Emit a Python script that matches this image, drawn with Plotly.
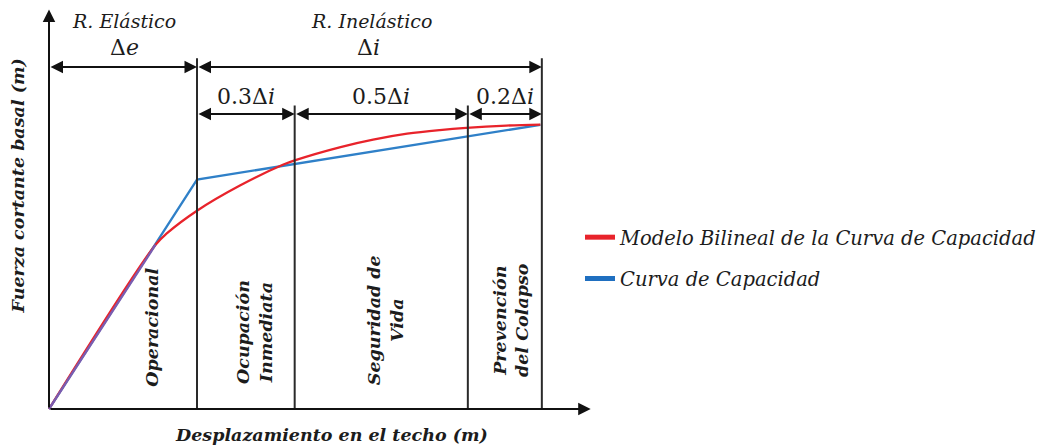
import plotly.graph_objects as go

# ---------------- data ----------------
region_bounds = [0.0, 1.0, 1.66, 2.83, 3.33]          # 0, Δe, +0.3Δi, +0.5Δi, +0.2Δi
region_labels = ["Operacional", "Ocupación<br>Inmediata", "Seguridad de<br>Vida", "Prevención<br>del Colapso"]
fraction_labels = ["0.3Δ<i>i</i>", "0.5Δ<i>i</i>", "0.2Δ<i>i</i>"]

bilinear_x = [0.0, 1.0, 3.32]
bilinear_y = [0.0, 1.55, 1.92]

curve_x = [0.0, 0.72, 0.80, 1.00, 1.29, 1.58, 1.66, 1.97, 2.19, 2.42, 2.64, 2.82, 3.09, 3.32]
curve_y = [0.0, 1.11, 1.19, 1.34, 1.51, 1.65, 1.68, 1.77, 1.82, 1.86, 1.885, 1.90, 1.915, 1.922]

name_curve = "Modelo Bilineal de la Curva de Capacidad"
name_bilinear = "Curva de Capacidad"

RED = "#e8232b"
BLUE = "#2f80c8"
PURPLE = "#7a5cb0"
INK = "#1c1c1c"
SERIF = "DejaVu Serif"

W, H = 1060, 446
UNIT = 148.0              # px per data unit
OX, OY = 49, 409          # origin in figure px

fig = go.Figure()

# capacity curves
fig.add_trace(go.Scatter(x=bilinear_x, y=bilinear_y, mode="lines",
                         line=dict(color=BLUE, width=2.3), showlegend=False, hoverinfo="skip"))
fig.add_trace(go.Scatter(x=curve_x, y=curve_y, mode="lines",
                         line=dict(color=RED, width=2.3, shape="spline", smoothing=1.0),
                         showlegend=False, hoverinfo="skip"))
# shared initial segment (the two lines overlap -> purple)
fig.add_trace(go.Scatter(x=curve_x[:2], y=curve_y[:2], mode="lines",
                         line=dict(color=PURPLE, width=2.3), showlegend=False, hoverinfo="skip"))

# legend entries (thicker samples)
fig.add_trace(go.Scatter(x=[None], y=[None], mode="lines", name=name_curve,
                         line=dict(color=RED, width=5), legendgroup="a"))
fig.add_trace(go.Scatter(x=[None], y=[None], mode="lines", name=name_bilinear,
                         line=dict(color="#1f6fc0", width=5), legendgroup="b"))

# vertical region boundaries
tops = [None, 2.37, 2.05, 2.05, 2.37]
for xb, top in zip(region_bounds[1:], tops[1:]):
    fig.add_shape(type="line", x0=xb, x1=xb, y0=0, y1=top, xref="x", yref="y",
                  line=dict(color="#2a2a2a", width=2))

annotations = []

def arrow(x0, y0, x1, y1, both=False):
    d = dict(x=x1, y=y1, ax=x0, ay=y0, xref="x", yref="y", axref="x", ayref="y",
             text="", showarrow=True, arrowhead=2, arrowsize=1.25, arrowwidth=2,
             arrowcolor="#111111")
    if both:
        d.update(arrowside="end+start", startarrowhead=2, startarrowsize=1.25)
    annotations.append(d)

# axes with arrows
arrow(0, 0, 0, 2.70)
arrow(0, 0, 3.66, 0)

# dimension arrows
row1, row2 = 2.31, 1.993
arrow(region_bounds[0], row1, region_bounds[1], row1, both=True)
arrow(region_bounds[1], row1, region_bounds[4], row1, both=True)
for a, b in zip(region_bounds[1:-1], region_bounds[2:]):
    arrow(a, row2, b, row2, both=True)

def text(x, y, s, size=17, weight="normal", style="normal", angle=0):
    annotations.append(dict(x=x, y=y, xref="x", yref="y", text=s, showarrow=False,
                            textangle=angle,
                            font=dict(family=SERIF, size=size, color=INK,
                                      weight=weight, style=style)))

# top labels
text(0.51, 2.62, "R. Elástico", size=19, style="italic")
text(0.51, 2.445, "Δ<i>e</i>", size=22)
text(2.18, 2.62, "R. Inelástico", size=19, style="italic")
text(2.16, 2.445, "Δ<i>i</i>", size=22)
frac_x = [1.33, 2.245, 3.08]
for fx, fl in zip(frac_x, fraction_labels):
    text(fx, 2.11, fl, size=22)

# region labels (rotated)
lab_x = [0.69, 1.385, 2.27, 3.12]
lab_y = [0.55, 0.52, 0.60, 0.60]
for lx, ly, lab in zip(lab_x, lab_y, region_labels):
    text(lx, ly, lab, size=17.5, weight="bold", style="italic", angle=-90)

# axis titles
text(1.91, -0.176, "Desplazamiento en el techo (m)", size=17.5, weight="bold", style="italic")
text(-0.21, 1.51, "Fuerza cortante basal (m)", size=17.5, weight="bold", style="italic", angle=-90)

fig.update_layout(
    width=W, height=H, autosize=False,
    margin=dict(l=0, r=0, t=0, b=0),
    paper_bgcolor="white", plot_bgcolor="white",
    xaxis=dict(range=[-OX / UNIT, (W - OX) / UNIT], visible=False, fixedrange=True),
    yaxis=dict(range=[(OY - H) / UNIT, OY / UNIT], visible=False, fixedrange=True),
    annotations=annotations,
    showlegend=True,
    legend=dict(x=580 / W, y=1 - 218 / H, xanchor="left", yanchor="top",
                bgcolor="rgba(0,0,0,0)", tracegroupgap=13, traceorder="grouped",
                font=dict(family=SERIF, size=19.5, color=INK, style="italic")),
)

fig.write_html("out.html", config={"displayModeBar": False},
               post_script="document.body.style.margin='0';document.body.style.overflow='hidden';")
